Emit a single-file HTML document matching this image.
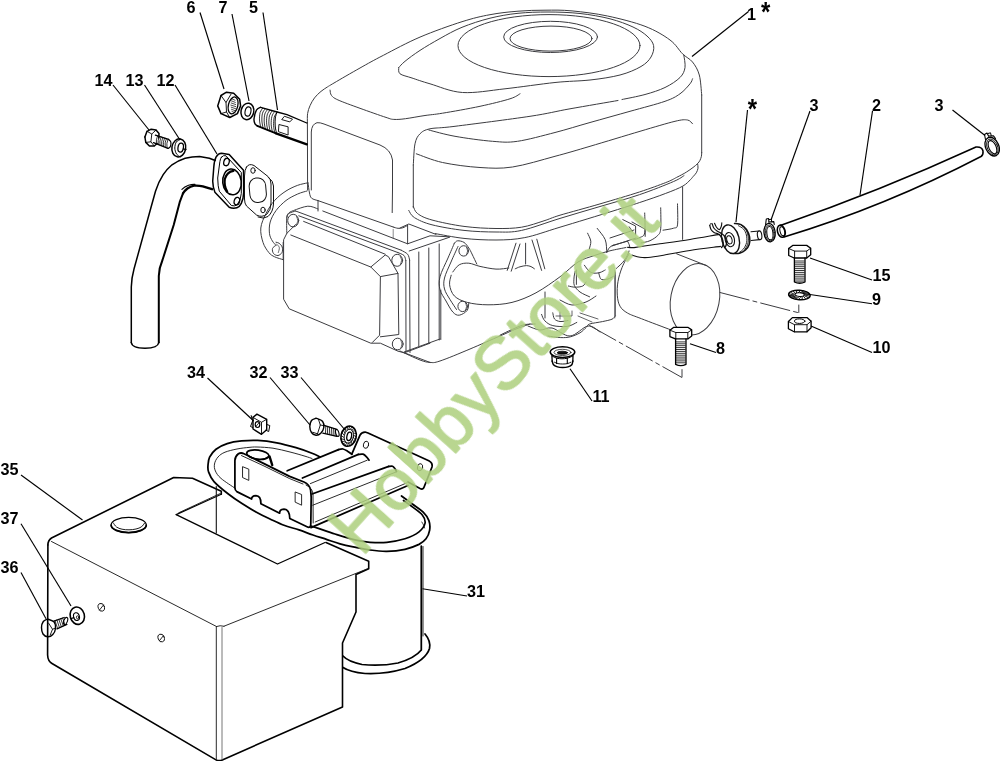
<!DOCTYPE html>
<html><head><meta charset="utf-8"><title>diagram</title>
<style>html,body{margin:0;padding:0;background:#fff;overflow:hidden}svg{display:block}
.t{font-family:"Liberation Sans",sans-serif;font-weight:bold;font-size:16.2px;fill:#000;stroke:none}
</style></head><body>
<svg width="1000" height="761" viewBox="0 0 1000 761">
<rect width="1000" height="761" fill="#fff"/>
<!-- engine -->
<g stroke="#3c3c40" stroke-width="1.0" fill="none" stroke-linecap="round" stroke-linejoin="round">
<path d="M307.6 190L307.4 122.6"/>
<path d="M307.4 122.6C307.4 121.1 307.2 116.3 307.6 113.5C308 110.7 308.9 108.3 310 105.7C311.1 103.1 312.7 100.3 314.5 97.9C316.3 95.5 318.8 93.2 321 91.4C323.2 89.6 325.3 88.3 327.5 86.9C329.7 85.5 328.6 86.2 334 83C339.4 79.8 351.8 72.6 360 68C368.2 63.4 373.4 60.4 383.4 55.3C393.4 50.1 406.9 42.7 420 37.1C433.1 31.5 450.3 25.4 462 21.7C473.7 18 480.7 16.4 490 14.7C499.3 12.9 508.8 11.9 518 11.2C527.2 10.4 536 10.2 545 10.2C554 10.1 561.6 9.9 572 10.9C582.4 11.9 595.3 13.4 607.5 16C619.7 18.6 634.6 22.3 645 26.3C655.4 30.3 663.8 35.4 670 40C676.2 44.6 678.8 50.1 682.5 53.8C686.2 57.5 689.7 58.5 692.5 62C695.3 65.5 697.8 69.5 699.3 75C700.8 80.5 701.3 91.7 701.7 95"/>
<path d="M701.7 95L701.7 152.4"/>
<path d="M398.8 67.5C399.8 66.5 401.5 64.1 405 61.3C408.5 58.4 414.2 54.2 420 50.4C425.8 46.6 433 42.4 440 38.5C447 34.6 453.7 30.7 462 27.3C470.3 23.9 480.7 20.5 490 18.2C499.3 15.9 508.3 14.3 518 13.3C527.7 12.3 537.7 12 548 12C558.3 12 569.7 12.4 580 13.5C590.3 14.6 601.2 16.6 610 18.8C618.8 21.1 626.8 24.1 633 27C639.2 29.9 643.6 32.9 647 36C650.4 39.1 652.9 42.1 653.6 45.6C654.3 49.1 653.1 53.5 651 57C648.9 60.5 646.2 63.5 641 66.5C635.8 69.5 628.5 72.8 620 75C611.5 77.2 600.8 78.8 590 80C579.2 81.2 569.2 81 555 82.5C540.8 84 520.4 87.1 505 88.8C489.6 90.5 475 93.3 462.5 92.5C450 91.7 438.4 86.2 430 83.8C421.6 81.4 417 79.7 412 78C407 76.3 402.2 75.5 400 73.8C397.8 72 399 68.5 398.8 67.5"/>
<ellipse cx="549" cy="45.6" rx="91" ry="31"/>
<ellipse cx="550.6" cy="36.9" rx="46.9" ry="15.6"/>
<ellipse cx="551" cy="38.6" rx="41" ry="12.5"/>
<path d="M683.8 55C684 57.1 685.6 63.8 685 67.5C684.4 71.2 683.3 74.2 680 77.5C676.7 80.8 670.8 84.7 665 87.5C659.2 90.3 652.2 92.5 645 94.5C637.8 96.5 625.8 98.7 622 99.5"/>
<path d="M618 100.5C610 101.9 584.7 106.2 570 108.8C555.3 111.4 549.2 113.4 530 116.3C510.8 119.2 471.7 124.2 455 126.3C438.3 128.4 435.8 127.6 430 128.8C424.2 130.1 422.5 131.3 420 133.8C417.5 136.3 416.1 138.6 415 143.8C413.9 149 413.6 161.5 413.3 165"/>
<path d="M413.3 165L413.3 207.5"/>
<path d="M413.3 206.4C414 207.6 414.5 211.3 417.6 213.6C420.7 215.9 424.3 217.9 432 220C439.7 222.1 453.3 225 464 226.4C474.7 227.8 486.4 228.4 496 228.5C505.6 228.6 513.6 228.5 521.6 227.2C529.6 225.9 537.6 222.8 544 220.8C550.4 218.8 550.7 218 560 215.2C569.3 212.4 586.8 207.8 600 203.9C613.2 200 628.4 195.6 639.4 192C650.4 188.4 659.5 185 665.7 182.6C671.9 180.2 673.2 179.2 676.6 177.4C680 175.7 683.7 173.8 686.4 172.1C689.1 170.4 691.1 168.9 693 167.5C694.9 166.1 696.4 164.8 697.6 163.6C698.8 162.4 699.4 161.5 700 160.3C700.6 159.1 701.1 157.6 701.4 156.3C701.7 155 701.7 153.1 701.7 152.4"/>
<path d="M408.8 210.4C409.7 211.6 410.5 215.2 414.4 217.6C418.3 220 423.7 222.7 432 224.8C440.3 226.9 453.3 229.2 464 230.4C474.7 231.6 486.4 232 496 232C505.6 232 510.9 232.7 521.6 230.4C532.3 228.1 546.9 222.4 560 218.4C573.1 214.4 586.8 210.4 600 206.5C613.2 202.6 627.1 198.9 639.4 194.7C651.7 190.5 666.2 184.7 673.6 181.5C681 178.3 682.3 176.6 684 175.6"/>
<path d="M435.2 233.6C440 234.4 453.9 237.3 464 238.4C474.1 239.5 485.9 240.1 496 240C506.1 239.9 514.1 239.7 524.8 237.6C535.5 235.5 545.3 231.6 560 227.2C574.7 222.8 599.8 215.1 613 211C626.2 206.9 630.6 205.5 639.4 202.6C648.2 199.7 658.5 196.2 665.7 193.4C672.9 190.7 678.7 188.4 682.8 186.1C686.9 183.8 688.7 181.3 690.4 179.7C692.1 178.1 692 177.8 693 176.7C694 175.5 695.5 174.2 696.3 172.8C697.1 171.4 697.8 169.7 698 168.2C698.2 166.7 697.7 164.6 697.6 163.9"/>
<path d="M428.8 130C433.2 131.1 444.4 134.4 455 136.3C465.6 138.2 482.1 140.5 492.5 141.3C502.9 142.1 507.1 142.8 517.5 141.3C527.9 139.8 542.9 135.6 555 132.5C567.1 129.4 577.5 126 590 122.5C602.5 119 617.5 114.8 630 111.3C642.5 107.8 656.7 104.2 665 101.3C673.3 98.4 675.8 96.7 680 93.8C684.2 90.9 687.9 86.3 690 83.8C692.1 81.3 692.1 79.6 692.5 78.8"/>
<path d="M416.3 153.8C420.7 155.2 431.9 160.2 442.5 162.5C453.1 164.8 468.3 166.8 480 167.5C491.7 168.2 500 168.9 512.5 167C525 165.1 542.1 159.8 555 156.3C567.9 152.9 575.8 150.5 590 146.3C604.2 142.1 625.8 135.5 640 131.3C654.2 127.1 667.1 123.2 675 121.3C682.9 119.4 684.6 119.6 687.5 120C690.4 120.4 691.7 123.2 692.5 123.8"/>
<path d="M520 93.8C518.3 94.6 516.7 96.7 510 98.8C503.3 100.9 491.2 103.9 480 106.3C468.8 108.7 451.7 111.7 442.5 113.2C433.3 114.7 431.2 114.6 425 115.5C418.8 116.4 410.7 118 405.5 118.7C400.3 119.4 397.1 119.6 393.8 119.4C390.6 119.2 391.6 119.2 386 117.4C380.4 115.6 368 111.2 360 108.3C352 105.4 342.7 102.1 337.9 99.9C333.1 97.7 332.7 96.9 331.4 95.3C330.1 93.7 330.3 91 330.1 90.1"/>
<path d="M311.3 190L311.3 132Q311.6 124.3 317 122.7Q320 122.4 324 124L380 145Q391 149.5 392.5 160L392.5 190"/>
</g>
<g stroke="#3c3c40" stroke-width="1.0" fill="none" stroke-linecap="round" stroke-linejoin="round">
<path d="M308 182.5C308.2 184.2 308.9 190.4 309.5 193C310.1 195.6 310.2 196.9 311.6 198.2C313 199.5 316.9 200.2 318 200.6"/>
<path d="M318 200.6L393.2 227"/>
<path d="M393.2 227C394 227.2 396.4 228.2 398 228.3C399.6 228.4 401.2 228.3 402.8 227.8C404.4 227.3 406.8 225.8 407.6 225.4"/>
<path d="M318 200.6L318 211"/>
<path d="M392.5 190L392.2 212.6"/>
<path d="M322.8 211L407.6 243.8L430 235.8L449 236.8"/>
<path d="M407.6 225.4L407.6 243.8"/>
<path d="M409.2 251L449.6 237.2"/>
<path d="M393.2 229.4L393.2 238.2" stroke-width="0.6"/>
<path d="M400 228L408.8 224L436 234.4"/>
<path d="M286.8 233.4C286.8 230.7 286.4 220.7 286.8 217.4C287.2 214.1 287.7 214.5 289.2 213.4C290.7 212.3 294.5 211.4 295.6 211"/>
<path d="M295.6 211L401.2 250.2"/>
<path d="M401.2 250.2C402.3 250.9 406.2 252.6 407.6 254.2C409 255.8 409.3 259 409.6 260"/>
<path d="M409.6 260L410 352.5"/>
<path d="M298.8 215.8L398 252.6"/>
<path d="M398 252.6C399 253.1 402.7 254.2 404 255.5C405.3 256.8 405.5 259.7 405.8 260.5"/>
<path d="M405.8 260.5L406 351.5"/>
<path d="M303.6 221.4L385.2 254.2"/>
<ellipse cx="293.2" cy="220.6" rx="5.5" ry="6.3"/>
<path d="M296.5 216.5C296.7 217.2 297.8 219.1 297.8 220.5C297.8 221.9 296.6 224.2 296.3 225" stroke-width="0.8"/>
<ellipse cx="397.2" cy="260.3" rx="5.4" ry="6"/>
<path d="M400.2 256.3C400.4 257 401.6 258.9 401.6 260.3C401.6 261.7 400.5 263.9 400.3 264.6" stroke-width="0.8"/>
<path d="M295.6 224.5L286.8 233.4L283.6 239.8L283.6 299.2L289.2 308.8L370.8 343.2L380.4 343.2L398 351.2L404.4 352.8L430 362.4"/>
<path d="M290.8 235L370.8 267L385.2 255L388.4 256.6L398 273.4L380.4 276.6L370.8 267"/>
<path d="M380.4 276.6L379.6 335.2L372.4 342.4"/>
<path d="M398 273.4L398.8 334.5L380.4 336.8"/>
<ellipse cx="397.7" cy="344" rx="5.4" ry="5.8"/>
<path d="M400.6 340C400.8 340.7 402 342.6 402 344C402 345.4 400.9 347.5 400.7 348.2" stroke-width="0.8"/>
<path d="M404.4 352.8L430 343.2"/>
<path d="M418.8 252L418.8 346"/>
<path d="M428.8 248L428.8 343.5"/>
<path d="M439.2 244L439.2 340"/>
<path d="M440.8 290L440.8 339.5"/>
<path d="M454.4 243.2C454.9 242.8 456 240.9 457.6 240.8C459.2 240.7 462.1 241.2 464 242.4C465.9 243.6 467.5 246.1 468.8 248C470.1 249.9 470.7 251.3 472 254C473.3 256.7 476 262.3 476.8 264"/>
<path d="M454.4 243.2C453.3 245.7 450.4 252.4 448 258C445.6 263.6 441.3 271.5 440 276.8C438.7 282.1 439 285.6 440 289.6C441 293.6 443.9 297.3 446 301C448.1 304.7 450.6 309.6 452.8 312C455 314.4 456.8 315.5 459.2 315.2C461.6 314.9 465.6 312.5 467.2 310.4C468.8 308.3 468.5 303.7 468.8 302.4"/>
<path d="M458 246.5C456.8 249.1 453.2 256.8 451 262C448.8 267.2 445.6 273.5 444.5 278C443.4 282.5 443.6 285.4 444.5 289C445.4 292.6 448 296.1 450 299.5C452 302.9 455.4 307.8 456.5 309.5"/>
<ellipse cx="463.7" cy="250.9" rx="4.8" ry="5.2"/>
<path d="M466.5 247.5C466.7 248.1 467.6 249.8 467.6 251C467.6 252.2 466.5 254.2 466.3 254.8" stroke-width="0.8"/>
<ellipse cx="462.7" cy="306.4" rx="4.8" ry="5.2"/>
<path d="M465.5 303C465.7 303.6 466.6 305.3 466.6 306.5C466.6 307.7 465.5 309.7 465.3 310.3" stroke-width="0.8"/>
<path d="M452.8 272C453.9 270.8 456.5 266.3 459.2 264.8C461.9 263.3 465.3 262.9 468.8 263.2C472.3 263.5 475.5 265.4 480 266.4C484.5 267.4 491.2 268.8 496 269.1C500.8 269.4 506.7 268.2 508.8 268"/>
<path d="M515.2 268.8C516 268.5 518.1 267.3 520 266.8C521.9 266.3 524.6 265.6 526.4 265.6C528.2 265.6 529.7 266.1 531 266.6C532.3 267.1 533.8 268.4 534.4 268.8"/>
<path d="M451.2 275.2C450.9 276.8 449.1 281.3 449.6 284.8C450.1 288.3 451.5 293.1 454.4 296C457.3 298.9 461.6 300.9 467.2 302.4C472.8 303.9 480.5 304.8 488 304.8C495.5 304.8 504 304.4 512 302.4C520 300.4 528 297.1 536 292.8C544 288.5 553 281.9 560 276.8C567 271.7 572.3 265.5 578 262C583.7 258.5 588.7 257.5 594 255.6C599.3 253.7 604.7 252.2 610 250.8C615.3 249.5 623.3 248.1 626 247.5"/>
<path d="M516 243.2L507.2 270.4"/>
<path d="M520 244L511.2 271.2"/>
<path d="M532 240L541.6 270.4"/>
<path d="M536.8 239.2L544.8 268.8"/>
<path d="M525.6 243.2L525.6 264"/>
<path d="M545 292L545 318"/>
<path d="M400 351C403.3 352.5 415 358.1 420 360C425 361.9 426.7 362.2 430 362.4C433.3 362.6 433.3 363.2 440 361C446.7 358.8 460 353.2 470 349C480 344.8 492.3 339.3 500 336C507.7 332.7 511 331 516 329C521 327 527.7 324.8 530 324"/>
<path d="M404 352L440 339"/>
<path d="M682.6 186.8L682.6 239.4"/>
<path d="M677.5 203.9C677.5 207.4 678.1 220.9 677.5 224.9C676.9 228.9 676 227.3 673.6 228.2C671.2 229.1 664.8 229.9 663 230.2"/>
<path d="M660.7 207.8C660.7 211.3 661.2 224.2 660.7 228.8C660.2 233.4 659.6 233.4 657.8 235.4C656 237.4 652.8 239.4 650 240.7C647.2 242 642.5 242.6 641 243"/>
<path d="M644.7 213C644.7 216.3 645.5 228.7 644.7 232.8C643.9 236.9 642 236.3 640 237.5C638 238.7 634.2 239.6 633 240"/>
<path d="M587.6 233.2C588.1 234.5 590.5 238.5 590.8 241.2C591.1 243.9 589.5 247.9 589.2 249.2"/>
<path d="M597.2 228.4C598.5 230.3 603.6 235.6 605.2 239.6C606.8 243.6 606.5 250.3 606.8 252.4"/>
<path d="M610 238L634 230"/>
<path d="M612 246L636 238"/>
<path d="M629 253.8C627.8 256.1 623.8 263 622 267.6C620.2 272.2 618.8 276.8 618 281.4C617.2 286 617 291.1 617.3 295.2C617.6 299.3 618.3 303.2 620 306.2C621.7 309.2 624 311 627.6 313.1C631.2 315.2 634.3 315.9 641.4 318.7C648.5 321.5 665.6 327.9 670.4 329.7"/>
<path d="M614.8 270L614.8 318" stroke-width="0.7"/>
</g>
<g stroke="#3c3c40" stroke-width="1.0" fill="none" stroke-linecap="round" stroke-linejoin="round">
<ellipse cx="695" cy="299.3" rx="24.3" ry="36" transform="rotate(11 695 299.3)"/>
<path d="M676.6 253.8L706.3 265.5"/>
</g>
<g stroke="#3c3c40" stroke-width="1.0" fill="none" stroke-linecap="round" stroke-linejoin="round">
<path d="M307 183C305.4 183.4 301.2 184 297.7 185.3C294.2 186.6 289.9 188.5 286 191C282.1 193.5 277.9 196.8 274.6 200.5C271.3 204.2 268.3 208.9 266 213.5C263.7 218.1 261.3 223.2 260.8 228C260.3 232.8 261.7 238.3 263 242.4C264.3 246.5 266.9 250.1 268.8 252.5C270.7 254.9 272.2 255.6 274.6 256.8C277 258 281.8 259.2 283.2 259.7"/>
<path d="M307 191C305.4 191.5 301.2 192.4 297.7 194C294.2 195.6 289.6 197.7 286 200.5C282.4 203.3 278.6 207 276 210.6C273.4 214.2 271.3 218.2 270.2 222C269.1 225.8 269.1 230.5 269.5 233.7C269.9 236.9 271.3 239.1 272.4 241C273.5 242.9 275.4 244.6 276 245.3"/>
<path d="M276 245.3C275.4 245.8 272.9 247.1 272.5 248.5C272.1 249.9 272.6 252.3 273.5 253.5C274.4 254.7 276.6 255.7 278 255.5C279.4 255.3 281.3 253.9 282 252.5C282.7 251.1 282.7 248.6 282.2 247C281.7 245.4 280 244 279 243.2C278 242.4 276.5 242.5 276 242.3"/>
<path d="M276.5 244C277 244.6 279 246.1 279.3 247.5C279.6 248.9 278.5 251.7 278.3 252.5" stroke-width="0.8"/>
<path d="M283.2 242.4L283.2 259.7"/>
<path d="M286.8 217.8C287.1 217.1 287.2 214.7 288.3 213.5C289.4 212.3 290.1 211.8 293.4 210.6C296.6 209.4 303.7 206.5 307.8 206.2C311.9 205.9 316.3 208.5 318 209"/>
</g>
<g stroke="#3c3c40" stroke-width="1.0" fill="none" stroke-linecap="round" stroke-linejoin="round" stroke-dasharray="30 4 4 4">
<path d="M589.6 325.6L681.6 377.3"/>
<path d="M720 292.5L797.5 312.5"/>
</g>
<g stroke="#3c3c40" stroke-width="1.0" fill="none" stroke-linecap="round" stroke-linejoin="round">
<path d="M682 369.6L682 377"/>
<path d="M798.8 305L798.8 312.5"/>
</g>
<g stroke="#3c3c40" stroke-width="1.0" fill="none" stroke-linecap="round" stroke-linejoin="round">
<path d="M615.2 272L615.2 316"/>
<path d="M615.2 316C614.7 316.5 614.1 318.3 612 319.2C609.9 320.1 606.1 320.8 602.4 321.6C598.7 322.4 592.3 323.1 589.6 324C586.9 324.9 588 325.7 586.4 327.2C584.8 328.7 582.7 331.2 580 332.8C577.3 334.4 573.6 336 570.4 336.8C567.2 337.6 564.5 337.7 560.8 337.6C557.1 337.5 550.1 336.3 548 336"/>
<path d="M500 335.2C502 334.2 508 331.2 512 329.5C516 327.8 520.1 325.7 524 324.8C527.9 323.9 533.3 324.1 535.2 324"/>
<path d="M541.6 314.4C542.1 315.5 542.9 318.9 544.8 320.8C546.7 322.7 549.1 324.7 552.8 325.6C556.5 326.5 563.2 326.9 567.2 326.4C571.2 325.9 575.2 323.1 576.8 322.4"/>
<path d="M552.8 312.8C553.1 313.8 553.3 317.6 554.5 319C555.7 320.4 557.8 321.2 560 321.5C562.2 321.8 566.7 320.7 568 320.5"/>
<path d="M575.2 271.2C575 272.3 574.1 275.6 574 278C573.9 280.4 573.4 283.3 574.4 285.6C575.4 287.9 577.5 290.1 580 292C582.5 293.9 588 296 589.6 296.8"/>
<path d="M560 300C562 300.8 567.7 304.7 572 305C576.3 305.3 582 303.5 586 302C590 300.5 594.3 297 596 296"/>
<path d="M556 316L572 316L572 311" stroke-width="0.8"/>
<path d="M560 312L560 319" stroke-width="0.8"/>
<path d="M578 316L592 322" stroke-width="0.8"/>
<path d="M580 313L598 319" stroke-width="0.8"/>
<path d="M528 326C530 326.7 536 329.7 540 330C544 330.3 547 327 552 328C557 329 564 336.3 570 336C576 335.7 583 326.7 588 326C593 325.3 598 331 600 332"/>
</g>
<g stroke="#3c3c40" stroke-width="1.0" fill="none" stroke-linecap="round" stroke-linejoin="round">
<path d="M622.8 219.6L635.6 226L635.6 234.8"/>
<path d="M629.2 226.8L632.4 231.6"/>
<path d="M632 222L645.2 229.2L645.2 236.4"/>
<path d="M606.8 252.4C607.2 251.6 608.4 248.7 609.5 247.5C610.6 246.3 612.6 245.6 613.2 245.2"/>
<path d="M613.2 245.2L627.6 241.2"/>
<path d="M627.6 241.2C627.9 242 629.3 244.4 629.6 246C629.9 247.6 630.1 248.4 629.2 250.8C628.3 253.2 626.5 257.5 624.4 260.4C622.3 263.3 617.7 267.1 616.4 268.4"/>
<path d="M576.4 270L576.4 284.4"/>
<path d="M584.4 265.2C585.2 266.2 587.4 269.7 589 271C590.6 272.3 592.2 272.9 594 273.2C595.8 273.4 598.1 273 600 272.5C601.9 272 604.3 270.4 605.2 270"/>
<path d="M598.8 273.2C599 273.9 599.5 276.4 600 277.5C600.5 278.6 600.7 279.4 602 279.6C603.3 279.9 606.1 279.5 608 279C609.9 278.5 612.3 276.8 613.2 276.4"/>
<path d="M568.4 286C569.5 286.2 572.6 287.2 575 287.2C577.4 287.2 581 286.9 582.8 286C584.6 285.1 585.5 282.7 586 282"/>
</g>
<!-- parts -->
<g stroke="#000" stroke-width="1.5" fill="none" stroke-linecap="round" stroke-linejoin="round">
<!-- pipe 12 -->
<path d="M131.3 342.5L131.3 287Q131.5 278 134 269L150 211L155.5 191.2Q158.5 182 163.2 174.7Q167 169 172 164.8Q178 160.5 185.2 158.2Q192 156.6 199.5 156.6L209.4 158.2L215.2 160.5"/>
<path d="M158.8 342.5L158.8 276Q159 268 162.5 260L173.7 225L179.7 202.2L183 193.4" stroke-width="2"/>
<path d="M183 193.4Q184.8 190.5 187.4 188.5Q190.5 186.5 194 185.7Q198.5 185.4 202.8 186.3L212 189.2" stroke-width="2.3"/>
<path d="M181.9 189.3Q184.5 186.8 188.5 185.2Q192 184.2 195 184.4" stroke-width="1.1"/>
<path d="M131.3 342.5Q132 348 145 348.3Q158 348 158.8 342.5"/>
<!-- flange 12 -->
<path d="M216 157.1Q218.5 153.3 221.5 153.3L229.2 154.4L243.5 170.3L243.7 192.3Q243.5 199 241.3 203.3Q239.5 207 236.9 207.7Q233 208.8 229.2 207.2L214.9 192.3Q213 188 212.7 181.3L213.8 167Q214.3 160.5 216 157.1Z"/>
<path d="M221.5 157.1Q223.5 154.8 226 155.8L241.3 172.5L241.3 193.4Q241 200.5 236.9 205Q234.5 206.5 231.4 205.5L219.3 191.2Q217.9 187 217.7 178L219.9 161.5Q220.3 158.5 221.5 157.1Z" stroke-width="1"/>
<ellipse cx="232" cy="181.9" rx="9.3" ry="12.9" transform="rotate(-6 232 181.9)"/>
<path d="M233.5 170.8Q227 171.5 224.8 179Q223.8 186 227.2 191.5" stroke-width="2.2"/>
<ellipse cx="226.5" cy="162" rx="2.7" ry="3.8" transform="rotate(15 226.5 162)" stroke-width="1.3"/>
<ellipse cx="236.9" cy="201.1" rx="2.7" ry="3.8" transform="rotate(15 236.9 201.1)" stroke-width="1.3"/>
</g>
<g stroke="#111" stroke-width="1" fill="none" stroke-linecap="round" stroke-linejoin="round">
<!-- gasket -->
<path d="M246.5 167Q249 163 254 165.5L268 176.5Q271 179 271 184L271 203Q271 210 267 214Q262 218 256.5 215L246.5 206Q244.5 203.5 244.5 199L244.5 176Q244.5 170 246.5 167Z"/>
<path d="M268.5 177.5Q273.5 181 273.5 186L273.5 204Q273 212 268 216.5Q263.5 219.5 258 217"/>
<rect x="249.5" y="178" width="16.5" height="24.5" rx="7.5" ry="8" transform="rotate(-5 257.5 190)"/>
<ellipse cx="253" cy="170.5" rx="2.2" ry="2.8"/>
<ellipse cx="263" cy="210" rx="2.2" ry="2.8"/>
</g>
<g stroke="#000" stroke-width="1.5" fill="none" stroke-linecap="round" stroke-linejoin="round">
<!-- hose 2 -->
<path d="M781 225.2Q880 191 976 147Q982 146.5 983 151Q983.5 155 981 156.5Q885 206.5 784 237"/>
<ellipse cx="781.3" cy="231.2" rx="3.8" ry="6.2" transform="rotate(-15 781.3 231.2)"/>
<ellipse cx="782.3" cy="231.2" rx="2.2" ry="4.6" transform="rotate(-15 782.3 231.2)" stroke-width="1"/>
</g>

<g stroke="#000" stroke-width="1.6" fill="none" stroke-linecap="round" stroke-linejoin="round">
<path d="M47.9 545Q47.9 540.5 51.5 538L173.7 477.5L192.5 478.3L221.3 491.3L221.3 494.3"/>
<path d="M221.3 494.3L176.2 514.6" stroke-width="1.2"/>
<path d="M176.2 514.6L277.5 564L325 542.5" stroke-width="1.3"/>
<path d="M47.9 545L47.6 655Q47.8 661 52 663.5L216 759.9Q219 761.4 222.3 759.9L342.5 707L342.5 643L356 612L356 574.5L368.7 568.8L368.7 561.2L326 542.5"/>
<ellipse cx="128.7" cy="525" rx="17.6" ry="7.6" stroke-width="1.1"/>
<path d="M111.1 525A17.6 7.6 0 0 0 146.3 525" stroke-width="1.7"/>
<path d="M113.2 522.8C113.8 523.5 115 525.9 116.5 527C118 528.1 119.9 528.7 122 529.2C124.1 529.7 126.7 529.8 129 529.8C131.3 529.8 133.9 529.5 136 529C138.1 528.5 140.1 527.8 141.5 526.8C142.9 525.8 143.9 523.9 144.4 523.3" stroke-width="0.9"/>
</g>
<g stroke="#111" stroke-width="0.9" fill="none" stroke-linecap="round" stroke-linejoin="round">
<path d="M51.5 541.5L216.5 626.5M224 626.2L367.5 568.8M216.3 627L216.3 759.5M216.5 626.5Q220 625 224 626.2"/>
<path d="M222 627.5L222 759.5" stroke="#666"/>
<path d="M178.7 512.8L220.3 493.5"/>
<path d="M216.3 486.5L216.3 533" stroke-width="1.1"/>
<ellipse cx="101.3" cy="607.3" rx="3.1" ry="4" transform="rotate(-20 101.3 607.3)"/>
<path d="M99.5 610L103.5 605"/>
<ellipse cx="161.2" cy="638" rx="3.1" ry="4" transform="rotate(-20 161.2 638)"/>
<path d="M159.4 640.7L163.4 635.7"/>
</g>
<g stroke="#000" stroke-width="1.75" fill="none" stroke-linecap="round" stroke-linejoin="round">
<path d="M320 456.9C318.7 456.3 316 454.8 312 453.2C308 451.6 301.9 449.3 296 447.6C290.1 445.9 283.2 444 276.8 442.8C270.4 441.6 263.5 440.7 257.6 440.4C251.7 440.1 246.7 440.4 241.6 440.9C236.5 441.4 231.5 442.2 227.2 443.6C222.9 445 218.9 446.9 216 449.2C213.1 451.5 210.9 454.5 209.6 457.2C208.3 459.9 208.2 462.7 208 465.2C207.8 467.7 207.6 469.3 208.6 472C209.6 474.7 210.8 478 214 481.6C217.2 485.2 223.3 490.1 228 493.8C232.7 497.5 237.3 500.6 242 503.6C246.7 506.6 251.3 509.4 256 512C260.7 514.6 265.3 516.8 270 519C274.7 521.2 279.2 523.5 284 525.3C288.8 527.1 294.2 528.3 299 529.9C303.8 531.5 308.3 533.4 313 535C317.7 536.6 322.5 538.1 327 539.6C331.5 541.1 335.6 542.6 340 543.8C344.4 545 348.2 545.8 353.2 546.8C358.2 547.8 364.4 549.2 370 550C375.6 550.8 381 551.5 386.8 551.4C392.6 551.3 399.6 550.5 405 549.3C410.4 548.1 415.5 546.1 419 544.4C422.5 542.6 424.2 541.1 426 538.8C427.8 536.5 429.1 533.4 429.6 530.4C430.1 527.4 430 523.6 428.9 520.6C427.8 517.6 426 515 423.2 512.2C420.4 509.4 415.6 506.5 412 503.8C408.4 501.1 403.2 497.3 401.5 496"/>
<path d="M311 526C312.1 526.4 313.6 526.8 317.6 528.1C321.6 529.4 328.6 532 335 534C341.4 536 350.2 538.8 356 540.2C361.8 541.6 364.9 541.9 370 542.3C375.1 542.6 381 542.9 386.8 542.3C392.6 541.7 399.6 540.5 405 538.8C410.4 537 415.7 534.4 419 531.8C422.3 529.2 424.4 526.2 425 523.4C425.6 520.6 424.5 517.8 422.3 515C420.1 512.2 415.1 509 412 506.6C408.9 504.2 404.9 501.5 403.5 500.5" stroke-width="1.7"/>
<path d="M421.3 546L421.3 650M425 634Q431 641 429.5 648.5Q426 660 405 668.5Q385 674.5 365 673.5Q350 672 343 667.5M421.3 650Q415 658 398 663Q380 666.5 362 664.5Q348 661.5 343 656"/>
</g>
<g stroke="#111" stroke-width="0.9" fill="none" stroke-linecap="round" stroke-linejoin="round">
<path d="M312 458.5C310.8 458.1 308.7 457.3 305 456.2C301.3 455.1 295.3 453.3 290 452C284.7 450.7 278.5 449 273 448.2C267.5 447.4 261 447.1 257 447C253 446.9 252.3 447.1 249 447.4C245.7 447.7 241 448.2 237 449C233 449.8 228.2 450.9 225 452.2C221.8 453.5 219.8 455 218 457C216.2 459 214.9 461.7 214.5 464C214.1 466.3 214.3 468.6 215.4 471C216.5 473.4 217.7 475.5 221 478.4C224.3 481.3 232.7 486.6 235 488.2"/>
<path d="M421.8 522C422.1 522.5 423.1 524 423.6 525C424.1 526 424.4 527.5 424.6 528" stroke-width="0.8"/>
<path d="M423 546.5L423 636"/>
</g>
<g stroke="#000" stroke-width="1.75" fill="none" stroke-linecap="round" stroke-linejoin="round">
<path d="M234.9 460.4Q234.9 456.5 238.4 453.7Q241 452.3 244 453.7L264 463.6L289.6 476.4L304 482Q309.5 484.5 310.6 490L311.2 497.2L310.8 524Q310.7 528.5 307 526.8L289.8 518.5Q289.6 509.5 284 509.2Q279.5 509.5 279.6 513.2L260.9 503.7Q261 495.8 256 495.6Q251.6 495.7 251.6 499L236.8 491.6Q234.9 490.5 234.9 487.6Z"/>
<path d="M287.2 470.8L338.5 449.6"/>
<path d="M338.5 449.6C339.2 449.5 341.5 448.7 343 449C344.5 449.3 346 450.3 347.5 451.2C349 452.1 351.2 453.9 352 454.4"/>
<path d="M302.4 478L358.4 454.4"/>
<path d="M358.4 454.4C359.2 454.4 361.6 453.8 363 454.2C364.4 454.6 365.5 455.8 366.5 456.8C367.5 457.8 368.6 459.6 369 460.2"/>
<path d="M312 494L388.8 466.4"/>
<path d="M388.8 466.4C389.4 466.4 391.5 465.8 392.5 466.2C393.5 466.6 394.3 467.9 395 468.8C395.7 469.7 396.2 471.1 396.5 471.5"/>
<path d="M311 527.6L408 485.5"/>
<path d="M352 453.6L360 435.2Q361.5 432 365 432L368 433L428.8 460.8Q433 463 432 467L424 487.2Q423 490 420 488.5L408 482"/>
<ellipse cx="257.8" cy="454.6" rx="11.2" ry="4.5" transform="rotate(8 257.8 454.6)" stroke-width="1.7"/>
<path d="M249.5 456.2C250.2 456.6 252.2 457.9 254 458.5C255.8 459.1 258.2 459.6 260 459.6C261.8 459.6 263.6 459.1 265 458.6C266.4 458.1 267.9 456.9 268.5 456.5" stroke-width="1.1"/>
<path d="M269.6 456.6L272.2 465" stroke-width="2.4"/>
</g>
<g stroke="#111" stroke-width="0.9" fill="none" stroke-linecap="round" stroke-linejoin="round">
<path d="M310.4 483.6L367.2 460.2"/>
<path d="M312.8 505.2L396 472"/>
<path d="M315.2 522L406.5 483"/>
<path d="M241.5 455.6L264 466L289.6 478.6L303 484M306 485Q312.5 488 313 494L313.2 523"/>
<path d="M242.9 466.8L248.8 469.2L248.8 480.4L242.9 477.7Z"/>
<path d="M295.5 492.1L301.6 494.5L301.6 505.2L295.5 502.3Z"/>
<ellipse cx="366" cy="444.8" rx="2.6" ry="3.6" transform="rotate(15 366 444.8)"/>
<ellipse cx="420" cy="467.2" rx="2.6" ry="3.6" transform="rotate(15 420 467.2)"/>
</g>
<!-- small -->
<g stroke="#000" stroke-width="1.3" fill="none" stroke-linecap="round" stroke-linejoin="round">
<path d="M788.7 248.5L792.7 245.4L806.7 245.4L810.7 248.2L810.7 254.8L806.7 258L794.2 258L788.7 255.5Z" stroke-width="1.3" fill="#fff"/>
<path d="M788.7 248.5L794.6 251.1L806.7 251.1L810.7 248.2" stroke-width="0.9"/>
<path d="M794.6 251.1L794.6 258" stroke-width="0.9"/>
<path d="M806.7 251.1L806.7 258" stroke-width="0.9"/>
<path d="M794.4 258L794.4 282Q799.7 284.5 805 282L805 258" stroke-width="1.3"/>
<path d="M795.2 261L804.2 261" stroke-width="0.8"/>
<path d="M795.2 262.9L804.2 262.9" stroke-width="0.8"/>
<path d="M795.2 264.8L804.2 264.8" stroke-width="0.8"/>
<path d="M795.2 266.7L804.2 266.7" stroke-width="0.8"/>
<path d="M795.2 268.6L804.2 268.6" stroke-width="0.8"/>
<path d="M795.2 270.5L804.2 270.5" stroke-width="0.8"/>
<path d="M795.2 272.4L804.2 272.4" stroke-width="0.8"/>
<path d="M795.2 274.3L804.2 274.3" stroke-width="0.8"/>
<path d="M795.2 276.2L804.2 276.2" stroke-width="0.8"/>
<path d="M795.2 278.1L804.2 278.1" stroke-width="0.8"/>
<path d="M795.2 280L804.2 280" stroke-width="0.8"/>
<path d="M795.2 281.9L804.2 281.9" stroke-width="0.8"/>
<ellipse cx="799.4" cy="295" rx="10.8" ry="4.7" transform="rotate(4 799.4 295)" stroke-width="1.4"/>
<ellipse cx="799.6" cy="294.6" rx="4.6" ry="1.8" transform="rotate(4 799.6 294.6)" stroke-width="1"/>
<path d="M804.9 295L809.3 296.1" stroke-width="0.9"/>
<path d="M804.6 295.8L807.8 297.4" stroke-width="0.9"/>
<path d="M803.6 296.5L805.3 298.5" stroke-width="0.9"/>
<path d="M802.1 297.1L802.2 299.1" stroke-width="0.9"/>
<path d="M800.4 297.4L798.6 299.3" stroke-width="0.9"/>
<path d="M798.4 297.4L795.2 298.9" stroke-width="0.9"/>
<path d="M796.6 297.1L792.3 298.1" stroke-width="0.9"/>
<path d="M795.2 296.5L790.2 296.9" stroke-width="0.9"/>
<path d="M794.2 295.8L789.3 295.4" stroke-width="0.9"/>
<path d="M793.9 295L789.5 293.9" stroke-width="0.9"/>
<path d="M794.2 294.2L791 292.6" stroke-width="0.9"/>
<path d="M795.2 293.5L793.5 291.5" stroke-width="0.9"/>
<path d="M796.6 292.9L796.6 290.9" stroke-width="0.9"/>
<path d="M798.4 292.6L800.2 290.7" stroke-width="0.9"/>
<path d="M800.4 292.6L803.6 291.1" stroke-width="0.9"/>
<path d="M802.1 292.9L806.5 291.9" stroke-width="0.9"/>
<path d="M803.6 293.5L808.6 293.1" stroke-width="0.9"/>
<path d="M804.6 294.2L809.5 294.6" stroke-width="0.9"/>
<path d="M788.4 321.5L792.4 317.6L807 317.6L811.1 321.2L811.1 327.8L807 331.8L794.1 331.8L788.4 328.7Z" stroke-width="1.3" fill="#fff"/>
<path d="M788.4 321.5L794.5 324.7L807 324.7L811.1 321.2" stroke-width="0.9"/>
<path d="M794.5 324.7L794.5 331.8" stroke-width="0.9"/>
<path d="M807 324.7L807 331.8" stroke-width="0.9"/>
<ellipse cx="799.7" cy="321.15000000000003" rx="5.221" ry="2.272" stroke-width="1.0"/>
<path d="M669.9 330.2L673.8 327.3L687.8 327.3L691.7 329.9L691.7 336L687.8 338.9L675.4 338.9L669.9 336.6Z" stroke-width="1.3" fill="#fff"/>
<path d="M669.9 330.2L675.8 332.5L687.8 332.5L691.7 329.9" stroke-width="0.9"/>
<path d="M675.8 332.5L675.8 338.9" stroke-width="0.9"/>
<path d="M687.8 332.5L687.8 338.9" stroke-width="0.9"/>
<path d="M675.6 338.9L675.6 364.4Q680.8 366.9 686 364.4L686 338.9" stroke-width="1.3"/>
<path d="M676.4 341.9L685.2 341.9" stroke-width="0.8"/>
<path d="M676.4 343.8L685.2 343.8" stroke-width="0.8"/>
<path d="M676.4 345.7L685.2 345.7" stroke-width="0.8"/>
<path d="M676.4 347.6L685.2 347.6" stroke-width="0.8"/>
<path d="M676.4 349.5L685.2 349.5" stroke-width="0.8"/>
<path d="M676.4 351.4L685.2 351.4" stroke-width="0.8"/>
<path d="M676.4 353.3L685.2 353.3" stroke-width="0.8"/>
<path d="M676.4 355.2L685.2 355.2" stroke-width="0.8"/>
<path d="M676.4 357.1L685.2 357.1" stroke-width="0.8"/>
<path d="M676.4 359L685.2 359" stroke-width="0.8"/>
<path d="M676.4 360.9L685.2 360.9" stroke-width="0.8"/>
<path d="M676.4 362.8L685.2 362.8" stroke-width="0.8"/>
</g>
<g stroke="#000" stroke-width="1.3" fill="none" stroke-linecap="round" stroke-linejoin="round">
<ellipse cx="562.5" cy="352.1" rx="12.3" ry="5.3" stroke-width="1.5"/>
<ellipse cx="562.5" cy="352.4" rx="8.5" ry="3.1" stroke-width="0.7"/>
<ellipse cx="562.4" cy="352.7" rx="5.2" ry="1.5" fill="#111" stroke="#000" stroke-width="0.8"/>
<path d="M551.9 355.5L552.2 361.5" stroke-width="1.3"/>
<path d="M573 355.5L572.8 361.5" stroke-width="1.3"/>
<path d="M556.6 358.2L556.6 363.5" stroke-width="1.1"/>
<path d="M567.3 358.2L567.3 363.5" stroke-width="1.1"/>
<path d="M552.5 356.2C553.2 356.5 555 357.8 556.6 358.2C558.2 358.6 560.2 358.8 562 358.8C563.8 358.8 565.5 358.6 567.3 358.2C569 357.8 571.6 356.5 572.5 356.2" stroke-width="1.0"/>
<path d="M552.2 361C552.4 361.6 552.6 363.8 553.5 364.8C554.4 365.8 556 366.4 557.5 366.9C559 367.4 560.9 367.6 562.6 367.6C564.4 367.6 566.5 367.4 568 366.9C569.5 366.4 571 365.8 571.8 364.8C572.6 363.8 572.6 361.6 572.8 361" stroke-width="1.5"/>
<path d="M554.5 362.2C555.1 362.4 556.6 363.3 558 363.6C559.4 363.9 561 364 562.6 364C564.2 364 566.1 363.9 567.5 363.6C568.9 363.3 570.2 362.4 570.8 362.2" stroke-width="0.9"/>
</g>
<g stroke="#000" stroke-width="1.3" fill="none" stroke-linecap="round" stroke-linejoin="round">
<path d="M217.7 105.9L221 95.5L226.5 92.2L233.7 93.3L239.7 99.3L240.6 105.9L237.4 113.6L229.8 117.5L221 113.6Z" stroke-width="1.5"/>
<path d="M221 95.5L226 102.5L226.5 112L221 113.6" stroke-width="0.9"/>
<path d="M226 102.5L231 94.2" stroke-width="0.9"/>
<path d="M226.5 112L229.8 117.5" stroke-width="0.9"/>
<ellipse cx="233.1" cy="105.4" rx="4.7" ry="8.6" transform="rotate(14 233.1 105.4)" stroke-width="1.3"/>
<path d="M231.9 98.8L235.1 100.3" stroke-width="0.7"/>
<path d="M231.5 100.9L235.3 102.4" stroke-width="0.7"/>
<path d="M231.2 103L235.6 104.5" stroke-width="0.7"/>
<path d="M230.8 105.1L235.8 106.6" stroke-width="0.7"/>
<path d="M231.2 107.2L235.6 108.7" stroke-width="0.7"/>
<path d="M231.5 109.3L235.3 110.8" stroke-width="0.7"/>
<path d="M231.9 111.4L235.1 112.9" stroke-width="0.7"/>
<ellipse cx="247.4" cy="111.4" rx="6.4" ry="8.3" transform="rotate(12 247.4 111.4)" stroke-width="1.5"/>
<ellipse cx="248" cy="111.5" rx="2.9" ry="4.7" transform="rotate(12 248 111.5)" stroke-width="1.1"/>
<path d="M260.6 107.3C259.9 107.8 257.6 108 256.5 110C255.4 112 254.2 116.8 254 119.1C253.8 121.4 254.4 122.7 255 123.8C255.6 124.9 256.9 125.6 257.3 125.9" stroke-width="1.4"/>
<path d="M260.6 107.3L277.1 112L287 114.7L306.8 123" stroke-width="1.3"/>
<path d="M257.3 125.9L276 133.4" stroke-width="1.7"/>
<path d="M276 133.4L306.8 144.4" stroke-width="2.3"/>
<path d="M262.7 108.3C262.3 109 260.6 110.5 260.1 112.5C259.6 114.5 259.4 117.6 259.5 120C259.6 122.4 260.5 125.8 260.7 127" stroke-width="0.8"/>
<path d="M265.1 109C264.6 109.7 263 111.3 262.5 113.3C261.9 115.3 261.8 118.5 261.9 121C262 123.4 262.9 126.8 263.1 128" stroke-width="0.8"/>
<path d="M267.4 109.7C267 110.4 265.3 112.1 264.8 114.1C264.3 116.1 264.1 119.4 264.2 121.9C264.3 124.4 265.2 127.8 265.4 129" stroke-width="0.8"/>
<path d="M269.8 110.4C269.3 111.1 267.7 112.8 267.2 114.9C266.6 117 266.5 120.3 266.6 122.8C266.6 125.4 267.6 128.8 267.8 130" stroke-width="0.8"/>
<path d="M272.1 111.1C271.7 111.9 270 113.6 269.5 115.7C269 117.8 268.8 121.2 268.9 123.8C269 126.3 269.9 129.8 270.1 131" stroke-width="0.8"/>
<path d="M274.4 111.8C274 112.6 272.4 114.3 271.9 116.5C271.3 118.7 271.1 122.2 271.2 124.8C271.4 127.3 272.2 130.8 272.4 132" stroke-width="0.8"/>
<path d="M276.8 112.5C276.4 113.3 274.7 115.1 274.2 117.3C273.7 119.5 273.5 123.1 273.6 125.7C273.7 128.3 274.6 131.8 274.8 133" stroke-width="0.8"/>
<path d="M277.1 112C276.8 113 275.6 115.7 275.3 118C275 120.3 275 123.4 275.2 126C275.4 128.6 276.3 132.2 276.5 133.4" stroke-width="1"/>
<path d="M284.8 116.4L292.5 119.1L289.8 121.9L282.1 119.7Z" stroke-width="0.9"/>
<path d="M279.3 124.6L288.1 126.8L288.1 135L278.8 131.8Z" stroke-width="0.9"/>
</g>
<g stroke="#000" stroke-width="1.3" fill="none" stroke-linecap="round" stroke-linejoin="round">
<path d="M144.9 137L147 131.3L151.2 129.2L156 130.1L159 133.4L158.8 138" stroke-width="1.5"/>
<path d="M144.9 137L145.8 142.4L149.4 146L154.2 146L157.2 143.5" stroke-width="1.5"/>
<path d="M147 131.3L151.8 134L150.9 141.8L145.8 142.4" stroke-width="0.9"/>
<path d="M151.8 134L156 130.1" stroke-width="0.9"/>
<path d="M150.9 141.8L154.2 146" stroke-width="0.9"/>
<path d="M155.4 135.2L168.6 139.4" stroke-width="1.3"/>
<path d="M153.5 142.6L168 148.4" stroke-width="1.4"/>
<path d="M168.6 139.4C168.9 139.8 170.2 140.7 170.6 141.5C171 142.3 171 143.5 170.9 144.5C170.8 145.5 170.3 146.7 169.8 147.3C169.3 148 168.3 148.2 168 148.4" stroke-width="1.2"/>
<path d="M157.7 135.9C157.5 136.6 156.6 138.5 156.4 139.8C156.2 141.1 156.6 143.1 156.6 143.8" stroke-width="0.8"/>
<path d="M159.5 136.5C159.2 137.1 158.3 139.1 158.2 140.4C158 141.7 158.3 143.8 158.4 144.5" stroke-width="0.8"/>
<path d="M161.2 137C161 137.7 160.1 139.6 159.9 141C159.7 142.4 160.1 144.5 160.1 145.2" stroke-width="0.8"/>
<path d="M163 137.6C162.7 138.2 161.8 140.2 161.7 141.6C161.5 143 161.8 145.1 161.9 145.8" stroke-width="0.8"/>
<path d="M164.7 138.1C164.5 138.8 163.6 140.8 163.4 142.2C163.2 143.6 163.6 145.8 163.6 146.5" stroke-width="0.8"/>
<path d="M166.5 138.7C166.2 139.4 165.3 141.4 165.2 142.8C165 144.2 165.3 146.5 165.4 147.2" stroke-width="0.8"/>
<path d="M168.2 139.3C168 140 167.1 142 166.9 143.4C166.7 144.8 167.1 147.1 167.1 147.9" stroke-width="0.8"/>
<ellipse cx="178.8" cy="147.9" rx="6.9" ry="9.1" transform="rotate(10 178.8 147.9)" stroke-width="1.5"/>
<path d="M180.5 139.3C179.8 139.8 177.2 140.6 176.3 142C175.4 143.4 174.8 146 174.8 148C174.8 150 175.6 152.5 176.5 154C177.4 155.5 179.4 156.3 180 156.8" stroke-width="1"/>
<ellipse cx="180.7" cy="147.6" rx="2.7" ry="4.5" transform="rotate(10 180.7 147.6)" stroke-width="1.3"/>
<path d="M183.3 148.8L186 149.6" stroke-width="1.2"/>
</g>
<g stroke="#000" stroke-width="1.3" fill="none" stroke-linecap="round" stroke-linejoin="round">
<path d="M253 417.4L256.9 414.1L266.7 419.3L266.7 429.7L261.5 434.3L253 429Z" stroke-width="1.4"/>
<path d="M253 417.4L261.5 422.3L261.5 434.3" stroke-width="0.9"/>
<path d="M261.5 422.3L266.7 419.3" stroke-width="0.9"/>
<ellipse cx="257.5" cy="424.6" rx="2.3" ry="2.9" stroke-width="1.2"/>
<path d="M256 426.4L259 422.8" stroke-width="0.8"/>
<path d="M251.2 415.6L252.6 421L250.5 426.5L252.8 427.5" stroke-width="1"/>
<path d="M266.8 424.5L269.8 425.5L268.7 431.5L266 430.3" stroke-width="1"/>
<path d="M316 418.2C315.2 418.6 312.5 419.1 311.5 420.5C310.5 421.9 309.8 424.5 309.8 426.5C309.8 428.5 310.5 431 311.5 432.5C312.5 434 314.4 435.2 316 435.3C317.6 435.4 319.5 434.6 320.8 433.3C322.1 432 323.5 429.5 323.8 427.5C324.1 425.5 323.8 422.8 322.5 421.2C321.2 419.6 317.1 418.7 316 418.2" stroke-width="1.4"/>
<path d="M318.5 419.5L320.3 425L317.5 433.8" stroke-width="0.9"/>
<path d="M320.3 425L323.6 425.6" stroke-width="0.9"/>
<path d="M312.8 432.3L317.5 433.8" stroke-width="0.9"/>
<path d="M324 425.3L336.9 429.4" stroke-width="1.3"/>
<path d="M322.8 433.2L336.9 436.4" stroke-width="1.3"/>
<ellipse cx="337.3" cy="433" rx="1.6" ry="3.6" transform="rotate(-15 337.3 433)" stroke-width="1.1"/>
<path d="M325.8 426.3L325.5 433.3" stroke-width="0.8"/>
<path d="M327.7 426.9L327.4 433.8" stroke-width="0.8"/>
<path d="M329.6 427.4L329.3 434.3" stroke-width="0.8"/>
<path d="M331.5 427.9L331.2 434.8" stroke-width="0.8"/>
<path d="M333.4 428.5L333.1 435.3" stroke-width="0.8"/>
<path d="M335.3 429.1L335 435.8" stroke-width="0.8"/>
<ellipse cx="348.6" cy="436.2" rx="7.6" ry="10.2" transform="rotate(12 348.6 436.2)" stroke-width="1.6"/>
<ellipse cx="349.2" cy="436.3" rx="2.3" ry="4.3" transform="rotate(12 349.2 436.3)" stroke-width="1.3"/>
<ellipse cx="348.9" cy="436.2" rx="4.6" ry="7" transform="rotate(12 348.9 436.2)" stroke-width="0.8"/>
<path d="M353.1 437.2L355.1 439.6" stroke-width="0.8"/>
<path d="M352.4 439.2L353.7 442.2" stroke-width="0.8"/>
<path d="M351.4 441L351.9 444.3" stroke-width="0.8"/>
<path d="M350.1 442.3L349.7 445.5" stroke-width="0.8"/>
<path d="M348.6 443L347.4 445.9" stroke-width="0.8"/>
<path d="M347.1 443L345.2 445.3" stroke-width="0.8"/>
<path d="M345.8 442.4L343.4 443.8" stroke-width="0.8"/>
<path d="M344.8 441.2L342 441.6" stroke-width="0.8"/>
<path d="M344.1 439.5L341.3 438.8" stroke-width="0.8"/>
<path d="M343.9 437.4L341.4 435.8" stroke-width="0.8"/>
<path d="M344.1 435.2L342.1 432.8" stroke-width="0.8"/>
<path d="M344.8 433.2L343.5 430.2" stroke-width="0.8"/>
<path d="M345.8 431.4L345.3 428.1" stroke-width="0.8"/>
<path d="M347.1 430.1L347.5 426.9" stroke-width="0.8"/>
<path d="M348.6 429.4L349.8 426.5" stroke-width="0.8"/>
<path d="M350.1 429.4L352 427.1" stroke-width="0.8"/>
<path d="M351.4 430L353.8 428.6" stroke-width="0.8"/>
<path d="M352.4 431.2L355.2 430.8" stroke-width="0.8"/>
<path d="M353.1 432.9L355.9 433.6" stroke-width="0.8"/>
<path d="M353.3 435L355.8 436.6" stroke-width="0.8"/>
</g>
<g stroke="#000" stroke-width="1.3" fill="none" stroke-linecap="round" stroke-linejoin="round">
<path d="M47.5 619C46.8 619.4 44.3 620.1 43.3 621.5C42.3 622.9 41.5 625.4 41.5 627.5C41.5 629.6 42 632.5 43 634C44 635.5 46.2 636.7 47.8 636.8C49.4 636.9 51.5 635.9 52.8 634.5C54.1 633.1 55.3 630.6 55.5 628.5C55.7 626.4 55.5 623.6 54.2 622C52.9 620.4 48.6 619.5 47.5 619" stroke-width="1.4"/>
<path d="M48.5 623L52.5 629.3L50.3 634.8" stroke-width="0.9"/>
<path d="M52.5 629.3L55.4 628" stroke-width="0.9"/>
<path d="M53.9 621.1L64.2 617.5" stroke-width="1.3"/>
<path d="M57 628.9L66.9 624.4" stroke-width="1.3"/>
<ellipse cx="65.6" cy="621" rx="1.8" ry="3.8" transform="rotate(20 65.6 621)" stroke-width="1.1"/>
<path d="M55 620.6L57.5 628.3" stroke-width="0.8"/>
<path d="M56.9 620L59.4 627.4" stroke-width="0.8"/>
<path d="M58.8 619.3L61.3 626.6" stroke-width="0.8"/>
<path d="M60.7 618.6L63.2 625.8" stroke-width="0.8"/>
<path d="M62.6 618L65.1 624.9" stroke-width="0.8"/>
<ellipse cx="77.3" cy="615.7" rx="7.1" ry="8.8" transform="rotate(-15 77.3 615.7)" stroke-width="1.6"/>
<ellipse cx="76.5" cy="616.6" rx="2.9" ry="3.9" transform="rotate(-15 76.5 616.6)" stroke-width="1.1"/>
<path d="M70.6 618.8L73.8 617.6" stroke-width="1.2"/>
<ellipse cx="77.6" cy="617.3" rx="1.2" ry="1.5" stroke-width="0.8"/>
</g>
<g stroke="#000" stroke-width="1.2" fill="none" stroke-linecap="round" stroke-linejoin="round">
<ellipse cx="769.6" cy="232.6" rx="5.6" ry="9.3" transform="rotate(-6 769.6 232.6)" stroke-width="1.3"/>
<ellipse cx="769.9" cy="233.2" rx="3.08" ry="6.696000000000001" transform="rotate(-6 769.9 233.2)" stroke-width="1.1"/>
<ellipse cx="769.8000000000001" cy="233.0" rx="4.367999999999999" ry="7.998" transform="rotate(-6 769.8000000000001 233.0)" stroke-width="0.8"/>
<path d="M765.6 224.5L766.3 219L768.6 218.5L768.9 222" stroke-width="1.1"/>
<path d="M768.9 222L773.8 221.6L774.2 224.5" stroke-width="1.1"/>
<path d="M769.3 219.5L771.5 219.3L771.6 221.5" stroke-width="1"/>
<ellipse cx="992.2" cy="146.6" rx="6.6" ry="9.8" transform="rotate(-24 992.2 146.6)" stroke-width="1.3"/>
<ellipse cx="992.5" cy="147.2" rx="3.63" ry="7.056" transform="rotate(-24 992.5 147.2)" stroke-width="1.1"/>
<ellipse cx="992.4000000000001" cy="147.0" rx="5.148" ry="8.428" transform="rotate(-24 992.4000000000001 147.0)" stroke-width="0.8"/>
<path d="M985.5 139.5L984.5 134.5L987 133L988.5 136" stroke-width="1.1"/>
<path d="M988.5 136L993.5 135.8L995.5 138.5" stroke-width="1.1"/>
<path d="M988 133.5L990.5 132.8L991.2 135.5" stroke-width="1"/>
</g>
<g stroke="#111" stroke-width="1.1" fill="none" stroke-linecap="round" stroke-linejoin="round">
<path d="M734.5 223.4C735.6 223.6 739 223.6 741 224.6C743 225.6 745.1 227.4 746.5 229.5C747.9 231.6 749.1 234.5 749.6 237C750.1 239.5 749.9 242.3 749.2 244.5C748.5 246.7 747.1 248.6 745.5 250C743.9 251.4 741.4 252.6 739.5 253.2C737.6 253.8 734.9 253.5 734 253.6" stroke-width="1.5"/>
<path d="M738.5 225.8C739.3 226.3 742.2 227.5 743.5 229C744.8 230.5 745.9 232.8 746.4 235C746.9 237.2 747.1 240.2 746.6 242.5C746.1 244.8 744.7 247.4 743.5 249C742.3 250.6 740.2 251.8 739.5 252.3" stroke-width="0.9"/>
<path d="M741 225C741.8 225.8 744.8 227.8 746 229.8C747.2 231.8 748 234.6 748.3 237C748.6 239.4 748.3 242.3 747.6 244.5C746.9 246.7 744.8 249.3 744.3 250.3" stroke-width="0.9"/>
<ellipse cx="730.5" cy="239.2" rx="8.6" ry="14.6" transform="rotate(-14 730.5 239.2)" fill="#fff" stroke-width="1.4"/>
<ellipse cx="729.8" cy="239.6" rx="4.6" ry="7.2" transform="rotate(-14 729.8 239.6)" stroke-width="1.1"/>
<ellipse cx="729.4" cy="239.8" rx="2.6" ry="4.2" transform="rotate(-14 729.4 239.8)" stroke-width="1.0"/>
<path d="M627.5 247.3C631 247.8 637 247.5 642.5 246.3C650 245 670 242.5 690 239.5L719.5 234.4L721.5 246.3L690 250.5C670 253.5 655 256.5 648 257.5C642 258 636 256.5 632 255" fill="#fff" stroke="none"/>
<path d="M627.5 247.3C628.6 247.4 631.5 247.8 634 247.6C636.5 247.4 638.2 246.9 642.5 246.3C646.8 245.7 652.1 244.9 660 243.8C667.9 242.7 680.1 241.1 690 239.5C699.9 237.9 714.6 235.2 719.5 234.4"/>
<path d="M632 255C633.3 255.4 637.3 256.9 640 257.3C642.7 257.7 644.3 257.8 648 257.5C651.7 257.2 655 256.7 662 255.5C669 254.3 680.2 252 690 250.5C699.8 249 715.4 247.1 720.5 246.4"/>
<path d="M717.5 233.6C718 234 719.7 234.8 720.6 236C721.5 237.2 722.4 239 722.8 240.5C723.2 242 723.2 243.8 723 245C722.8 246.2 721.8 247.1 721.5 247.5" stroke-width="1.3"/>
<path d="M720.8 233C721.3 233.4 723.1 234.3 724 235.5C724.9 236.7 725.8 238.7 726.2 240.3C726.6 241.9 726.5 243.8 726.2 245C725.9 246.2 724.9 247.2 724.6 247.6" stroke-width="1.3"/>
<path d="M709.8 225.6C710 226.2 710.3 228.3 711 229.5C711.7 230.7 712.9 231.9 714 232.6C715.1 233.3 716.9 233.4 717.5 233.6" stroke-width="1.2"/>
<path d="M712.3 224C712.5 224.7 713 226.8 713.8 228C714.6 229.2 715.8 230.2 717 231C718.2 231.8 720.2 232.7 720.8 233" stroke-width="1.2"/>
<path d="M714.5 223.2C714.8 223.9 715.7 226.2 716.5 227.3C717.3 228.4 718.7 229.8 719.5 229.6C720.3 229.4 720.9 227.4 721.3 226.3C721.7 225.2 721.7 223.4 721.8 222.8" stroke-width="1.1"/>
<path d="M709.8 225.6C709.9 225.3 710.2 223.9 710.6 223.6C711 223.3 712 223.9 712.3 224" stroke-width="1"/>
<path d="M751 231.8L759 231"/>
<path d="M751.2 240.5L759.5 239.6"/>
<ellipse cx="759.6" cy="235.3" rx="2.2" ry="4.4" transform="rotate(-8 759.6 235.3)" stroke-width="1.1"/>
</g>
<!-- leaders -->
<g stroke="#000" stroke-width="1.15" fill="none">
<path d="M200 12.5L224 89"/>
<path d="M232 14L249 101"/>
<path d="M263 12.5L277.5 110"/>
<path d="M748.5 11.5L692 56.5"/>
<path d="M113 85L149 130"/>
<path d="M144.5 85L180 140"/>
<path d="M175 85L217 154"/>
<path d="M747.5 110L736 222"/>
<path d="M810 111L771 220"/>
<path d="M872.5 111L860 195"/>
<path d="M952.5 110L985 135.5"/>
<path d="M810 258L872 280"/>
<path d="M810 294.5L872 303.75"/>
<path d="M811 326L872 352.5"/>
<path d="M690 343.75L716 352.5"/>
<path d="M570 368.75L592 401"/>
<path d="M207.5 378L253.75 421"/>
<path d="M270 377.5L310 425"/>
<path d="M301 377.5L345 430"/>
<path d="M21 475L82.5 520"/>
<path d="M21 523.75L71 606"/>
<path d="M21 572.5L46 618.75"/>
<path d="M422.5 588.75L467 596"/>
</g>

<!-- labels -->
<g class="t" opacity="0.999">
<text transform="translate(186.5,13) scale(1,1.05)">6</text>
<text transform="translate(218.5,13) scale(1,1.05)">7</text>
<text transform="translate(249,13) scale(1,1.05)">5</text>
<text transform="translate(747,19.5) scale(1,1.05)">1</text>
<text transform="translate(760.9,20.6) scale(1,1.15)" font-size="24">*</text>
<text transform="translate(94.5,86) scale(1,1.05)">14</text>
<text transform="translate(125.5,86) scale(1,1.05)">13</text>
<text transform="translate(156.5,86) scale(1,1.05)">12</text>
<text transform="translate(747.7,118) scale(1,1.15)" font-size="24">*</text>
<text transform="translate(809.5,110.5) scale(1,1.05)">3</text>
<text transform="translate(872,110.5) scale(1,1.05)">2</text>
<text transform="translate(934.5,110.5) scale(1,1.05)">3</text>
<text transform="translate(872.5,280.5) scale(1,1.05)">15</text>
<text transform="translate(872,304.5) scale(1,1.05)">9</text>
<text transform="translate(872.5,353) scale(1,1.05)">10</text>
<text transform="translate(716,353.5) scale(1,1.05)">8</text>
<text transform="translate(592.5,402) scale(1,1.05)">11</text>
<text transform="translate(187,378) scale(1,1.05)">34</text>
<text transform="translate(249.5,378) scale(1,1.05)">32</text>
<text transform="translate(280.5,378) scale(1,1.05)">33</text>
<text transform="translate(0.5,475) scale(1,1.05)">35</text>
<text transform="translate(0.5,523.5) scale(1,1.05)">37</text>
<text transform="translate(0.5,572.5) scale(1,1.05)">36</text>
<text transform="translate(467,597) scale(1,1.05)">31</text>
</g>

<!-- wm -->
<g transform="translate(365,554) rotate(-48.1)" opacity="0.86">
<text x="-5" y="0" font-family="Liberation Sans, sans-serif" font-size="74" fill="#aed07e" stroke="#aed07e" stroke-width="1.5" stroke-linejoin="round" textLength="449" lengthAdjust="spacing">HobbyStore.it</text>
</g>

</svg></body></html>
